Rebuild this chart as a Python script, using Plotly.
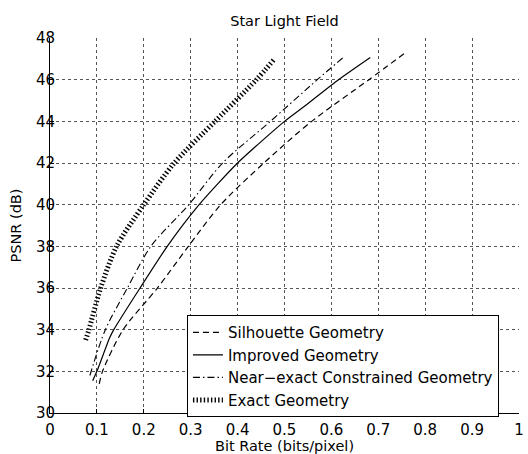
import plotly.graph_objects as go

# Data
sil_x = [0.105, 0.112, 0.156, 0.229, 0.295, 0.364, 0.456, 0.558, 0.68, 0.757]
sil_y = [31.4, 32.0, 34.0, 36.0, 38.0, 40.0, 42.0, 44.0, 46.0, 47.28]

imp_x = [0.091, 0.100, 0.127, 0.136, 0.192, 0.250, 0.318, 0.400, 0.500, 0.547, 0.615, 0.683]
imp_y = [31.55, 32.0, 33.6, 34.0, 36.0, 38.0, 40.0, 42.0, 44.0, 44.8, 46.0, 47.07]

near_x = [0.085, 0.118, 0.165, 0.215, 0.296, 0.368, 0.470, 0.570, 0.626]
near_y = [31.8, 34.0, 36.0, 38.0, 40.0, 42.0, 44.0, 46.0, 47.08]

exact_x = [0.076, 0.083, 0.108, 0.142, 0.200, 0.265, 0.352, 0.440, 0.477]
exact_y = [33.5, 34.0, 36.0, 38.0, 40.0, 42.0, 44.0, 46.0, 46.95]

names = ["Silhouette Geometry", "Improved Geometry",
         "Near\u2212exact Constrained Geometry", "Exact Geometry"]

x_tick_step = 0.1
y_tick_step = 2

fig = go.Figure()
fig.add_trace(go.Scatter(x=sil_x, y=sil_y, mode="lines", name=names[0],
                         line=dict(color="black", width=1.2, dash="6px,4px",
                                   shape="spline", smoothing=0.8)))
fig.add_trace(go.Scatter(x=imp_x, y=imp_y, mode="lines", name=names[1],
                         line=dict(color="black", width=1.2,
                                   shape="spline", smoothing=0.6)))
fig.add_trace(go.Scatter(x=near_x, y=near_y, mode="lines", name=names[2],
                         line=dict(color="black", width=1.1, dash="7px,3px,1.5px,3px",
                                   shape="spline", smoothing=0.8)))
fig.add_trace(go.Scatter(x=exact_x, y=exact_y, mode="lines", name=names[3],
                         line=dict(color="black", width=5, dash="1.4px,2.2px",
                                   shape="spline", smoothing=0.8)))

font_family = "DejaVu Sans, Liberation Sans, Arial, sans-serif"

fig.update_layout(
    width=528, height=454,
    margin=dict(l=50, r=9, t=38, b=41),
    paper_bgcolor="white", plot_bgcolor="white",
    font=dict(family=font_family, size=15, color="black"),
    title=dict(text="Star Light Field", xref="paper", x=0.5, xanchor="center",
               y=0.954, yanchor="middle",
               font=dict(size=14.5, family=font_family, color="black")),
    showlegend=True,
    legend=dict(x=0.292, y=0.261, xanchor="left", yanchor="top",
                bordercolor="black", borderwidth=1, bgcolor="white",
                font=dict(size=15, family=font_family, color="black"),
                tracegroupgap=0, itemwidth=30),
    xaxis=dict(range=[0, 1.0001], tickmode="linear", tick0=0, dtick=x_tick_step,
               automargin=False,
               showgrid=True, gridcolor="#555555", griddash="dot", gridwidth=1,
               showline=True, linecolor="black", linewidth=1, mirror=False,
               ticks="inside", ticklen=4, tickcolor="black", zeroline=False,
               tickfont=dict(size=15), ticklabeloverflow="allow",
               ticklabelstandoff=3,
               title=dict(text="Bit Rate (bits/pixel)", standoff=2, font=dict(size=14.5))),
    yaxis=dict(range=[30, 48.001], tickmode="linear", tick0=30, dtick=y_tick_step,
               automargin=False,
               showgrid=True, gridcolor="#555555", griddash="dot", gridwidth=1,
               showline=True, linecolor="black", linewidth=1, mirror=False,
               ticks="inside", ticklen=4, tickcolor="black", zeroline=False,
               tickfont=dict(size=15), ticklabelstandoff=-9,
               title=dict(text="PSNR (dB)", standoff=10, font=dict(size=14.5))),
)

fig.write_html("out.html", post_script="document.body.style.margin='0';",
               config={"displayModeBar": False})
